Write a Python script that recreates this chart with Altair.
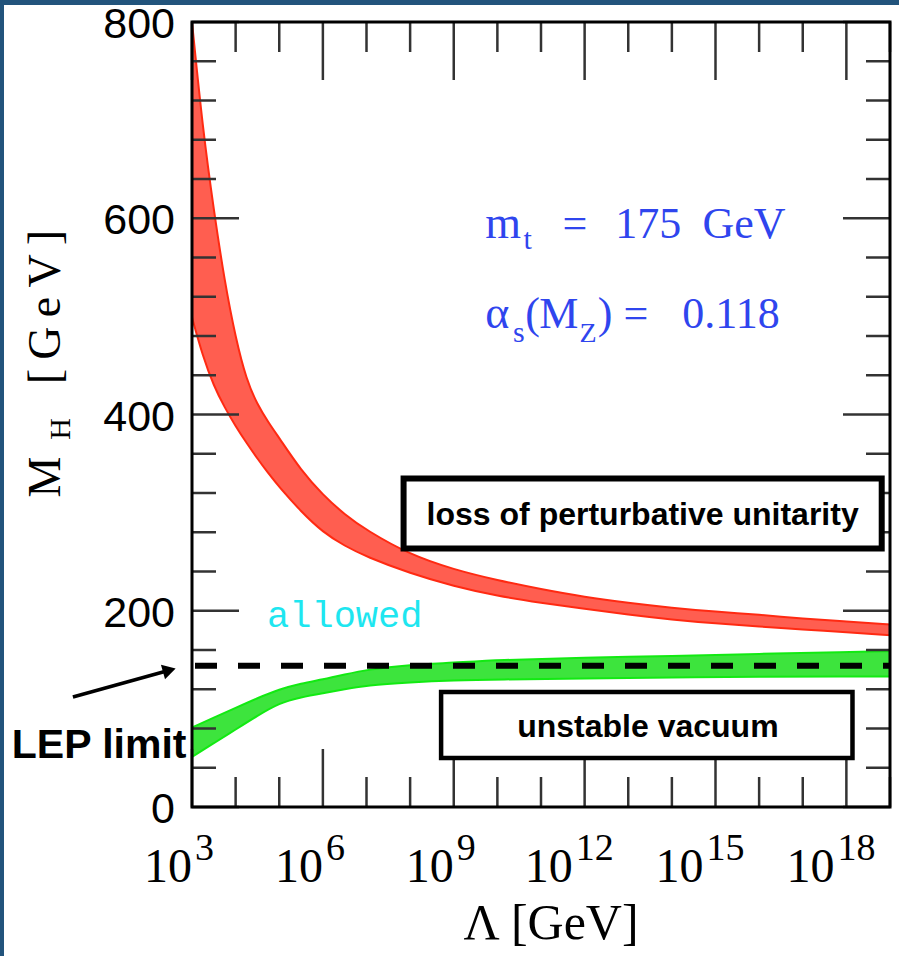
import altair as alt
import pandas as pd

# ---------------- data ----------------
# x = log10(Lambda / GeV), y = M_H in GeV
red_log = [3.0, 3.25, 3.5, 3.75, 4.0, 4.25, 4.5, 4.75, 5.0, 5.5, 6.0, 6.5, 7.0,
           8.0, 9.0, 10.0, 11.0, 12.0, 13.0, 14.0, 15.0, 16.0, 17.0, 18.0, 19.0]
red_upper = [800, 690, 608, 535, 478, 435, 410, 392, 376, 343, 318, 298, 282,
             257, 242, 231, 222, 214, 208, 203, 199, 196, 192, 189, 186]
red_lower = [499, 459, 429, 407, 388, 371, 355, 340, 326, 301, 280, 266, 255,
             238, 225, 215, 208, 202, 196, 191, 187, 184, 181, 178, 175]

green_log = [3.0, 3.5, 4.0, 4.5, 5.0, 5.5, 6.0, 6.5, 7.0, 8.0, 9.0, 10.0,
             12.0, 14.0, 16.0, 18.0, 19.0]
green_upper = [81, 91, 101, 111, 120, 126, 130, 135, 140, 145, 147, 150,
               152, 154, 156, 158, 159]
green_lower = [51, 65, 79, 93, 106, 112, 116, 120, 124, 127, 129, 130,
               131, 132, 133, 133, 133]

lep_limit = 144  # GeV

x_tick_exps = list(range(3, 20))
x_major_exps = [3, 6, 9, 12, 15, 18]
y_tick_vals = list(range(0, 801, 40))
y_major_vals = [0, 200, 400, 600, 800]

# ---------------- tables ----------------
red_df = pd.DataFrame({"lam": red_log, "hi": red_upper, "lo": red_lower})
green_df = pd.DataFrame({"lam": green_log, "hi": green_upper, "lo": green_lower})
xt_df = pd.DataFrame({"e": x_tick_exps,
                      "major": [e in x_major_exps for e in x_tick_exps]})
yt_df = pd.DataFrame({"v": y_tick_vals,
                      "major": [v in y_major_vals for v in y_tick_vals]})
xl_df = pd.DataFrame({"e": x_major_exps, "exp": [str(e) for e in x_major_exps]})
yl_df = pd.DataFrame({"v": y_major_vals, "lab": [str(v) for v in y_major_vals]})
one = pd.DataFrame({"k": [0]})

W, H = 698, 785
XS = alt.Scale(domain=[3, 19], nice=False, zero=False)
YS = alt.Scale(domain=[0, 800], nice=False, zero=False)

SERIF = "Liberation Serif"
SANS = "Liberation Sans"
BLUE = "#2f45ee"


def xd(v):
    return alt.XDatum(v, scale=XS, axis=None)


def yd(v):
    return alt.YDatum(v, scale=YS, axis=None)


def txt(text, x, y, size, color="black", font=SERIF, align="left",
        baseline="alphabetic", weight="normal", angle=0):
    return alt.Chart(one).mark_text(
        text=text, align=align, baseline=baseline, fontSize=size, font=font,
        color=color, fontWeight=weight, angle=angle
    ).encode(x=x, y=y)


# white sheet over the blue textured background
sheet = alt.Chart(one).mark_rect(color="white").encode(
    x=alt.value(-188), x2=alt.value(W + 9), y=alt.value(-17), y2=alt.value(H + 149)
)

red = alt.Chart(red_df).mark_area(
    fill="#ff5e50", stroke="#ff2a12", strokeWidth=2, interpolate="basis"
).encode(
    x=alt.X("lam:Q", scale=XS, axis=None),
    y=alt.Y("hi:Q", scale=YS, axis=None),
    y2="lo:Q",
)

green = alt.Chart(green_df).mark_area(
    fill="#3de43d", stroke="#12ea12", strokeWidth=2, interpolate="basis"
).encode(
    x=alt.X("lam:Q", scale=XS, axis=None),
    y=alt.Y("hi:Q", scale=YS, axis=None),
    y2="lo:Q",
)

lep = alt.Chart(one).mark_rule(
    color="black", strokeWidth=6, strokeDash=[22, 21], strokeDashOffset=-3
).encode(x=xd(3), x2=alt.X2Datum(19), y=yd(lep_limit))

frame = alt.Chart(one).mark_rect(
    filled=False, stroke="black", strokeWidth=3
).encode(x=xd(3), x2=alt.X2Datum(19), y=yd(0), y2=alt.Y2Datum(800))

TICK = "#333333"


def xticks(major, y0, y1):
    return alt.Chart(xt_df).transform_filter(
        alt.datum.major if major else ~alt.datum.major
    ).mark_rule(color=TICK, strokeWidth=2.5).encode(
        x=alt.X("e:Q", scale=XS, axis=None), y=alt.value(y0), y2=alt.value(y1)
    )


def yticks(major, x0, x1):
    return alt.Chart(yt_df).transform_filter(
        alt.datum.major if major else ~alt.datum.major
    ).mark_rule(color=TICK, strokeWidth=2.5).encode(
        y=alt.Y("v:Q", scale=YS, axis=None), x=alt.value(x0), x2=alt.value(x1)
    )


ticks = [
    xticks(False, H, H - 30), xticks(True, H, H - 58),
    xticks(False, 0, 30), xticks(True, 0, 58),
    yticks(False, 0, 24), yticks(True, 0, 47),
    yticks(False, W, W - 24), yticks(True, W, W - 47),
]

# tick labels
ylabels = alt.Chart(yl_df).mark_text(
    align="right", baseline="middle", fontSize=43, font=SANS, color="black", dy=3
).encode(y=alt.Y("v:Q", scale=YS, axis=None), x=alt.value(-17), text="lab:N")


def xlabels(single):
    f = alt.datum.e < 10 if single else alt.datum.e >= 10
    base = alt.Chart(xl_df).transform_filter(f).mark_text(
        text="10", align="right", baseline="alphabetic", fontSize=48, font=SERIF,
        color="black", dx=0 if single else -12
    ).encode(x=alt.X("e:Q", scale=XS, axis=None), y=alt.value(H + 75))
    sup = alt.Chart(xl_df).transform_filter(f).mark_text(
        align="left", baseline="alphabetic", fontSize=38, font=SERIF,
        color="black", dx=3 if single else -9
    ).encode(x=alt.X("e:Q", scale=XS, axis=None), y=alt.value(H + 53),
             text="exp:N")
    return [base, sup]


labels = [ylabels] + xlabels(True) + xlabels(False)

# axis titles
titles = [
    txt("Λ [GeV]", alt.value(359), alt.value(H + 132), 50, align="center"),
    txt("M", alt.value(-132), alt.value(455), 46, align="center", angle=270),
    txt("H", alt.value(-122), alt.value(407), 30, align="center", angle=270),
    txt("[\u2009G\u2009e\u2009V\u2009]", alt.value(-132), alt.value(285), 46,
        align="center", angle=270),
]

# blue parameter text
params = [
    txt("m", xd(9.72), yd(580), 46, BLUE),
    txt("t", xd(10.60), yd(569), 30, BLUE),
    txt("=", xd(11.49), yd(580), 44, BLUE),
    txt("175", xd(12.70), yd(580), 44, BLUE),
    txt("GeV", xd(14.70), yd(580), 44, BLUE),
    txt("α", xd(9.72), yd(488), 46, BLUE),
    txt("s", xd(10.36), yd(474), 30, BLUE),
    txt("(", xd(10.64), yd(488), 44, BLUE),
    txt("M", xd(10.96), yd(488), 44, BLUE),
    txt("Z", xd(11.88), yd(474), 28, BLUE),
    txt(")", xd(12.30), yd(488), 44, BLUE),
    txt("=", xd(12.89), yd(488), 44, BLUE),
    txt("0.118", xd(14.24), yd(488), 44, BLUE),
]

allowed = txt("allowed", xd(4.72), yd(183.5), 37, "#1ee6f0", font="Liberation Mono")

box1 = alt.Chart(one).mark_rect(fill="white", stroke="black", strokeWidth=6).encode(
    x=xd(7.85), x2=alt.X2Datum(18.81), y=yd(334.9), y2=alt.Y2Datum(263.5))
box1_t = txt("loss of perturbative unitarity", xd(13.33), yd(287.5), 32,
             font=SANS, weight="bold", align="center")
box2 = alt.Chart(one).mark_rect(fill="white", stroke="black", strokeWidth=4.5).encode(
    x=xd(8.71), x2=alt.X2Datum(18.14), y=yd(117.2), y2=alt.Y2Datum(50))
box2_t = txt("unstable vacuum", xd(13.45), yd(71.4), 32,
             font=SANS, weight="bold", align="center")

lep_t = txt("LEP limit", xd(-1.13), yd(50), 41, font=SANS, weight="bold")
arrow = alt.Chart(one).mark_rule(color="black", strokeWidth=3.5).encode(
    x=xd(0.27), x2=alt.X2Datum(2.48), y=yd(112.1), y2=alt.Y2Datum(139.4))
arrow_head = alt.Chart(one).mark_point(
    shape="triangle-right", size=230, filled=True, color="black", opacity=1,
    angle=344.4
).encode(x=xd(2.48), y=yd(139.4))

chart = alt.layer(
    sheet, red, green, lep, *ticks, frame, *labels, *titles, *params, allowed,
    box1, box1_t, box2, box2_t, lep_t, arrow, arrow_head
).properties(
    width=W, height=H,
    autosize=alt.AutoSizeParams(type="none"),
    padding={"left": 192, "top": 22, "right": 9, "bottom": 149},
    background="#22547c",
).configure_view(stroke=None, fill=None)

chart.save("out.html", embed_options={"renderer": "svg", "actions": False})
